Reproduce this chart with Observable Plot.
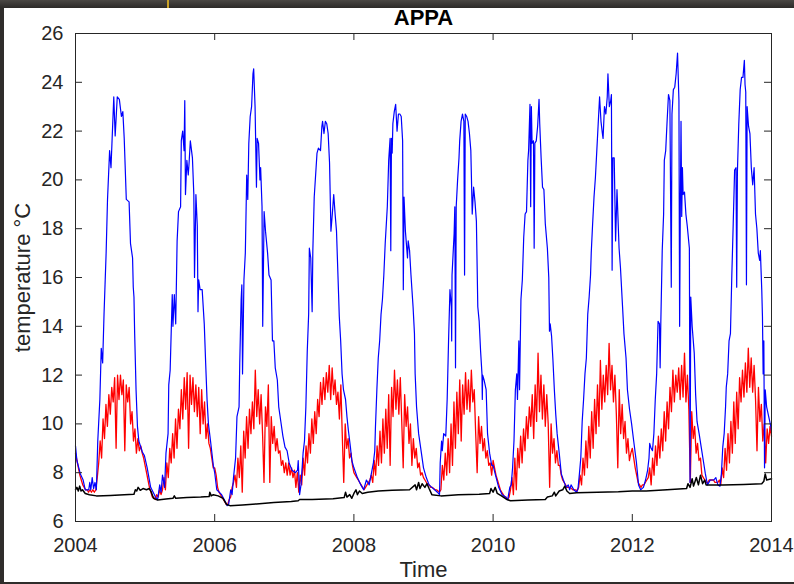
<!DOCTYPE html>
<html><head><meta charset="utf-8">
<script src="https://cdn.jsdelivr.net/npm/d3@7"></script>
<script src="https://cdn.jsdelivr.net/npm/@observablehq/plot@0.6"></script>
<style>
html,body{margin:0;padding:0;width:794px;height:584px;overflow:hidden;background:#2f2d2b;}
#top{position:absolute;left:0;top:0;width:794px;height:8px;background:linear-gradient(#4a4744,#2c2a28);}
#mark1{position:absolute;left:167px;top:0;width:2px;height:8px;background:#c9a227;}
#paper{position:absolute;left:4px;top:8px;width:790px;height:574px;background:#fff;}
#chart{position:absolute;left:0;top:0;width:794px;height:584px;}
#chart svg{overflow:visible;}
</style></head><body><div id="top"></div><div id="mark1"></div><div id="paper"></div><div id="chart"></div>
<script>
const title = "APPA";
const xLabel = "Time";
const yLabel = "temperature °C";
const years = [2004, 2005, 2006, 2007, 2008, 2009, 2010, 2011, 2012, 2013];
const xTicks = [2004, 2006, 2008, 2010, 2012, 2014];
const yTicks = [6, 8, 10, 12, 14, 16, 18, 20, 22, 24, 26];

// blue series: [decimal year, temperature]
const blue = [
[2004.00,9.1],[2004.02,8.5],[2004.07,7.95],[2004.11,7.7],[2004.14,7.3],[2004.19,7.3],[2004.205,7.6],[2004.22,7.3],[2004.24,7.8],[2004.26,7.35],[2004.28,7.6],[2004.30,7.3],[2004.32,9.3],[2004.35,11.0],[2004.37,13.1],[2004.39,12.5],[2004.41,14.5],[2004.44,17.0],[2004.46,19.2],[2004.49,21.2],[2004.51,20.5],[2004.55,23.4],[2004.57,21.8],[2004.60,23.4],[2004.63,23.3],[2004.66,22.6],[2004.68,22.8],[2004.70,21.7],[2004.73,19.2],[2004.77,19.1],[2004.79,17.4],[2004.82,16.8],[2004.83,15.6],[2004.84,15.2],[2004.85,13.7],[2004.87,11.4],[2004.89,9.9],[2004.91,9.3],[2004.96,8.85],[2004.99,8.7],
[2005.03,8.2],[2005.08,7.4],[2005.15,7.0],[2005.18,6.9],[2005.21,7.5],[2005.23,7.2],[2005.25,7.9],[2005.28,7.4],[2005.30,8.8],[2005.33,9.6],[2005.34,11.6],[2005.36,12.2],[2005.39,15.3],[2005.40,14.0],[2005.42,15.3],[2005.44,14.1],[2005.46,17.5],[2005.48,18.7],[2005.51,18.9],[2005.52,21.6],[2005.54,22.0],[2005.56,21.2],[2005.57,23.25],[2005.58,19.4],[2005.60,20.8],[2005.62,20.2],[2005.63,20.6],[2005.65,21.6],[2005.68,20.9],[2005.70,19.4],[2005.71,16.0],[2005.73,19.4],[2005.75,18.1],[2005.76,14.6],[2005.77,15.9],[2005.79,15.5],[2005.82,15.5],[2005.85,14.1],[2005.87,12.5],[2005.89,11.0],[2005.91,10.0],[2005.94,9.3],[2005.98,8.3],
[2006.00,8.0],[2006.03,7.3],[2006.10,7.1],[2006.18,6.65],[2006.20,6.7],[2006.23,7.3],[2006.25,7.1],[2006.27,7.8],[2006.30,8.6],[2006.32,10.3],[2006.35,10.7],[2006.36,12.5],[2006.38,15.1],[2006.39,15.7],[2006.40,12.05],[2006.42,15.9],[2006.44,17.0],[2006.46,20.2],[2006.475,19.2],[2006.49,21.5],[2006.51,22.6],[2006.53,23.0],[2006.55,24.35],[2006.56,24.55],[2006.58,23.0],[2006.60,19.7],[2006.61,21.7],[2006.63,21.5],[2006.65,20.0],[2006.66,20.5],[2006.68,18.9],[2006.69,14.0],[2006.71,18.7],[2006.73,17.9],[2006.76,17.0],[2006.78,16.1],[2006.81,15.9],[2006.83,13.4],[2006.85,13.4],[2006.87,12.3],[2006.90,11.8],[2006.92,10.7],[2006.95,10.1],[2006.98,9.5],
[2007.01,9.05],[2007.04,8.9],[2007.07,8.4],[2007.11,8.1],[2007.16,8.0],[2007.19,8.1],[2007.20,8.5],[2007.22,7.1],[2007.24,7.5],[2007.27,8.8],[2007.29,9.3],[2007.31,10.7],[2007.33,13.0],[2007.35,14.5],[2007.36,17.2],[2007.38,16.8],[2007.40,14.6],[2007.41,17.1],[2007.43,19.3],[2007.45,20.2],[2007.47,21.1],[2007.49,21.3],[2007.52,21.2],[2007.54,22.2],[2007.55,22.4],[2007.57,21.9],[2007.59,22.4],[2007.61,22.3],[2007.63,21.9],[2007.65,20.7],[2007.67,17.9],[2007.69,18.6],[2007.71,19.4],[2007.73,18.6],[2007.75,17.9],[2007.78,15.3],[2007.79,14.4],[2007.81,13.4],[2007.83,12.05],[2007.85,11.4],[2007.88,11.0],[2007.90,10.3],[2007.92,9.75],[2007.95,9.05],[2007.97,8.5],
[2008.00,8.2],[2008.05,7.8],[2008.10,7.5],[2008.14,7.3],[2008.18,7.7],[2008.22,7.5],[2008.25,7.95],[2008.28,8.4],[2008.30,8.9],[2008.31,9.9],[2008.33,11.4],[2008.35,12.7],[2008.37,13.4],[2008.39,14.5],[2008.41,15.1],[2008.43,16.1],[2008.45,17.4],[2008.48,18.9],[2008.50,20.8],[2008.52,21.7],[2008.53,17.1],[2008.54,21.7],[2008.55,21.1],[2008.56,22.3],[2008.58,22.8],[2008.60,23.1],[2008.62,22.0],[2008.64,22.7],[2008.66,22.7],[2008.68,22.6],[2008.70,21.6],[2008.71,15.5],[2008.72,19.3],[2008.74,17.9],[2008.77,16.8],[2008.78,17.5],[2008.80,17.1],[2008.82,16.1],[2008.85,14.8],[2008.87,13.7],[2008.88,12.05],[2008.90,10.7],[2008.93,9.6],[2008.97,8.8],
[2009.00,8.2],[2009.04,7.8],[2009.08,7.5],[2009.12,7.4],[2009.16,7.3],[2009.20,7.2],[2009.23,7.1],[2009.24,8.4],[2009.26,9.3],[2009.27,8.9],[2009.29,9.6],[2009.32,9.5],[2009.34,11.0],[2009.36,13.4],[2009.38,15.5],[2009.40,14.8],[2009.405,13.4],[2009.41,16.1],[2009.44,17.8],[2009.45,18.9],[2009.46,12.3],[2009.47,18.9],[2009.49,20.0],[2009.51,20.9],[2009.52,21.6],[2009.54,22.4],[2009.56,22.7],[2009.58,22.4],[2009.59,16.1],[2009.60,22.7],[2009.62,22.6],[2009.64,22.4],[2009.66,21.9],[2009.68,21.2],[2009.70,18.6],[2009.72,19.7],[2009.74,19.1],[2009.76,18.3],[2009.78,14.8],[2009.80,14.2],[2009.82,13.0],[2009.84,12.05],[2009.845,11.0],[2009.85,12.0],[2009.87,11.8],[2009.90,11.4],[2009.92,9.6],[2009.95,8.8],[2009.98,8.3],
[2010.00,8.3],[2010.03,7.95],[2010.08,7.4],[2010.13,7.1],[2010.18,7.0],[2010.21,6.9],[2010.24,7.4],[2010.26,7.5],[2010.28,8.2],[2010.30,9.3],[2010.32,11.4],[2010.34,12.05],[2010.35,11.0],[2010.37,13.4],[2010.38,11.4],[2010.40,15.1],[2010.42,15.9],[2010.44,17.65],[2010.46,18.6],[2010.48,18.7],[2010.50,20.8],[2010.51,21.2],[2010.53,23.1],[2010.54,18.9],[2010.55,23.0],[2010.56,21.5],[2010.58,21.6],[2010.59,17.2],[2010.60,21.5],[2010.62,21.6],[2010.64,22.2],[2010.66,23.3],[2010.67,22.3],[2010.69,20.9],[2010.71,19.7],[2010.73,19.6],[2010.75,18.2],[2010.78,17.2],[2010.80,16.0],[2010.81,13.8],[2010.82,14.1],[2010.84,13.6],[2010.86,12.6],[2010.88,11.4],[2010.90,10.4],[2010.92,9.6],[2010.95,8.8],[2010.98,7.95],
[2011.01,7.7],[2011.05,7.4],[2011.08,7.5],[2011.10,7.3],[2011.12,7.5],[2011.16,7.3],[2011.20,7.2],[2011.22,7.35],[2011.24,7.95],[2011.26,8.6],[2011.28,10.1],[2011.30,11.0],[2011.32,12.05],[2011.34,12.7],[2011.36,14.5],[2011.38,15.2],[2011.40,16.1],[2011.41,17.0],[2011.43,18.2],[2011.45,19.3],[2011.47,20.1],[2011.49,21.2],[2011.51,22.3],[2011.53,23.4],[2011.55,22.4],[2011.57,21.9],[2011.58,21.7],[2011.60,23.0],[2011.62,22.7],[2011.64,23.4],[2011.65,24.35],[2011.67,23.0],[2011.69,23.25],[2011.70,23.5],[2011.71,16.3],[2011.72,20.9],[2011.74,20.9],[2011.76,17.5],[2011.78,19.6],[2011.81,17.2],[2011.83,16.4],[2011.86,14.8],[2011.88,13.7],[2011.91,12.7],[2011.93,11.4],[2011.96,10.6],[2011.99,10.0],
[2012.02,9.3],[2012.06,8.4],[2012.09,7.5],[2012.12,7.3],[2012.16,7.4],[2012.19,7.7],[2012.22,8.1],[2012.24,8.6],[2012.25,9.2],[2012.27,9.0],[2012.29,8.9],[2012.31,9.6],[2012.33,11.0],[2012.35,12.05],[2012.37,14.2],[2012.39,14.1],[2012.40,12.3],[2012.41,14.2],[2012.43,17.1],[2012.45,18.6],[2012.46,20.8],[2012.48,21.2],[2012.50,22.4],[2012.52,23.5],[2012.54,23.25],[2012.56,15.6],[2012.57,22.7],[2012.59,23.7],[2012.61,23.8],[2012.63,24.35],[2012.65,25.2],[2012.67,23.25],[2012.68,14.0],[2012.69,18.9],[2012.70,22.4],[2012.71,18.5],[2012.72,20.5],[2012.73,19.4],[2012.75,19.5],[2012.77,18.6],[2012.79,18.1],[2012.82,17.2],[2012.83,7.6],[2012.84,15.2],[2012.86,14.0],[2012.89,12.9],[2012.91,11.2],[2012.93,10.1],[2012.96,9.6],[2012.99,9.05],
[2013.02,8.5],[2013.05,7.95],[2013.08,7.5],[2013.12,7.7],[2013.17,7.7],[2013.20,7.8],[2013.23,7.5],[2013.26,7.45],[2013.28,7.95],[2013.30,9.05],[2013.32,9.6],[2013.34,10.7],[2013.35,11.5],[2013.37,12.05],[2013.39,13.4],[2013.41,13.7],[2013.43,16.1],[2013.45,18.2],[2013.47,20.4],[2013.49,20.5],[2013.50,15.6],[2013.51,20.3],[2013.53,22.3],[2013.55,23.7],[2013.57,24.2],[2013.59,24.2],[2013.61,24.9],[2013.62,23.9],[2013.63,23.6],[2013.64,15.7],[2013.65,23.0],[2013.67,22.2],[2013.69,21.9],[2013.71,20.5],[2013.73,19.8],[2013.75,20.5],[2013.77,18.6],[2013.79,18.0],[2013.81,17.0],[2013.83,16.7],[2013.84,17.1],[2013.86,15.5],[2013.87,14.4],[2013.88,12.05],[2013.89,13.4],[2013.90,8.2],[2013.91,11.4],[2013.93,10.7],[2013.96,10.3],[2013.99,9.9],[2014.00,9.7]
];

// red series: 48 readings per year (one every 1/48 year)
const red2004 = [8.8,8.5,8.2,7.9,7.7,7.5,7.4,7.3,7.3,7.2,7.3,7.2,7.3,7.2,7.3,7.8,8.4,9.3,8.6,10.2,9.4,10.8,9.9,11.2,10.4,11.5,10.9,11.9,9.0,12.0,11.0,12.0,11.2,11.8,8.9,11.6,10.9,11.5,10.0,10.5,9.3,9.8,8.8,9.4,8.9,9.1,8.8,8.6];
const red2005 = [8.3,8.0,7.7,7.4,7.2,7.0,7.0,6.9,7.1,7.0,7.3,7.1,7.3,7.8,7.3,8.4,7.8,9.0,8.4,9.6,8.6,10.2,9.0,10.6,9.8,11.4,10.2,11.9,10.6,12.1,9.0,12.0,10.8,11.9,10.5,11.6,10.3,11.5,9.6,11.4,10.0,10.9,9.4,10.0,9.2,9.0,8.6,8.2];
const red2006 = [8.2,7.9,7.4,7.2,7.1,7.0,6.9,6.8,6.7,6.7,6.9,7.0,7.4,7.6,7.9,7.4,8.6,7.8,9.1,7.2,9.7,8.6,10.3,9.0,10.6,9.6,10.9,9.8,12.2,10.3,11.4,10.0,11.2,9.6,7.6,10.7,9.9,11.6,7.6,10.3,9.2,9.9,8.9,9.4,8.8,8.9,8.3,8.5];
const red2007 = [8.0,8.4,7.9,8.4,7.9,8.2,7.8,8.1,7.4,8.0,7.2,7.9,7.5,8.6,7.9,9.1,8.4,9.6,8.8,10.2,9.2,10.5,9.6,11.0,10.3,11.7,10.8,11.9,11.0,12.1,11.3,12.4,11.0,12.3,11.2,11.8,10.8,11.3,10.2,11.6,9.5,7.6,10.0,9.0,9.4,8.6,8.8,8.3];
const red2008 = [8.0,7.9,7.8,7.7,7.6,7.5,7.4,7.3,7.4,7.5,7.6,7.7,7.9,7.6,8.5,7.9,9.1,8.3,9.7,8.4,10.2,8.8,10.6,9.0,11.2,8.3,11.5,10.3,12.2,10.6,11.8,10.4,11.9,10.1,8.2,11.2,9.9,10.7,9.2,10.0,8.3,9.4,8.6,9.0,8.2,8.4,7.9,8.0];
const red2009 = [7.8,7.7,7.6,7.5,7.5,7.4,7.4,7.35,7.3,7.3,7.25,7.2,7.3,8.3,7.7,8.8,7.9,9.4,8.0,10.0,8.3,10.9,9.0,11.3,9.6,11.8,9.3,11.6,10.4,12.1,10.6,11.8,10.5,12.2,10.9,11.4,9.6,8.0,10.3,9.2,9.9,8.9,9.4,8.6,8.9,8.3,8.4,7.9];
const red2010 = [8.5,8.2,7.9,7.7,7.5,7.3,7.2,7.1,7.0,7.0,6.9,7.0,7.3,7.8,7.1,8.6,7.3,9.0,8.2,9.5,8.4,9.8,8.9,10.3,9.4,10.7,9.9,11.2,9.4,11.6,10.1,12.9,10.5,12.0,10.2,11.6,9.9,11.2,10.0,7.4,10.0,8.8,9.4,8.4,8.9,8.3,8.3,7.9];
const red2011 = [7.7,7.6,7.5,7.4,7.4,7.4,7.35,7.3,7.3,7.3,7.25,7.4,7.9,7.5,8.6,7.9,9.3,8.2,9.9,8.6,10.5,9.0,11.0,9.6,11.6,9.9,12.6,10.6,12.0,10.9,12.4,11.2,13.3,11.4,12.4,10.9,12.0,10.4,8.2,11.4,9.6,10.8,9.4,10.1,8.8,9.4,8.5,8.8];
const red2012 = [9.0,8.6,8.2,7.9,7.6,7.5,7.4,7.5,7.5,7.6,7.7,7.8,8.2,7.5,8.6,7.9,9.1,8.3,9.5,8.6,9.8,8.9,10.5,9.3,10.9,9.8,11.5,10.5,12.2,10.9,12.0,11.3,12.3,11.0,12.4,11.1,12.9,10.9,12.0,10.6,7.6,10.5,9.4,9.9,8.8,9.2,8.5,8.6];
const red2013 = [7.9,7.8,7.7,7.6,7.6,7.7,7.7,7.7,7.7,7.6,7.6,7.6,7.7,7.5,8.2,7.8,9.0,8.1,9.6,8.4,10.1,8.8,10.9,9.2,11.3,9.8,11.9,10.9,12.2,11.1,12.5,11.3,13.1,11.5,12.7,11.3,12.4,11.0,8.9,11.5,10.1,10.8,9.3,10.0,8.4,9.8,9.2,9.9];
const redEnd = 9.5;

// black series: [decimal year, temperature]
const black = [
[2004.00,7.30],[2004.02,7.40],[2004.04,7.25],[2004.06,7.45],[2004.08,7.25],[2004.10,7.30],[2004.14,7.15],[2004.20,7.10],[2004.30,7.05],[2004.50,7.07],[2004.70,7.10],[2004.84,7.12],[2004.86,7.30],[2004.88,7.25],[2004.90,7.40],[2004.93,7.28],[2004.97,7.35],
[2005.02,7.30],[2005.06,7.35],[2005.09,7.20],[2005.12,6.95],[2005.18,6.88],[2005.30,6.92],[2005.40,6.95],[2005.42,7.05],[2005.44,6.95],[2005.60,6.98],[2005.80,7.00],[2005.92,7.02],[2005.93,7.20],[2005.95,7.05],[2005.98,7.10],
[2006.05,7.05],[2006.12,6.95],[2006.17,6.70],[2006.22,6.65],[2006.40,6.68],[2006.60,6.72],[2006.85,6.78],[2007.10,6.82],[2007.20,6.85],[2007.22,6.90],[2007.40,6.90],[2007.70,6.93],[2007.86,6.98],[2007.88,7.20],[2007.90,7.00],[2007.94,7.10],[2007.97,6.95],
[2008.00,7.15],[2008.03,7.30],[2008.05,7.10],[2008.08,7.25],[2008.12,7.15],[2008.20,7.20],[2008.35,7.25],[2008.55,7.28],[2008.80,7.30],[2008.88,7.50],[2008.90,7.30],[2008.93,7.60],[2008.95,7.35],[2008.98,7.55],
[2009.02,7.40],[2009.05,7.55],[2009.08,7.35],[2009.12,7.10],[2009.25,7.05],[2009.50,7.10],[2009.80,7.12],[2009.95,7.15],[2009.97,7.35],
[2010.00,7.20],[2010.03,7.40],[2010.06,7.15],[2010.12,7.05],[2010.20,6.90],[2010.25,6.85],[2010.50,6.88],[2010.75,6.90],[2010.78,7.00],[2010.85,7.05],[2010.88,7.20],[2010.90,7.05],[2010.95,7.25],
[2011.00,7.30],[2011.03,7.45],[2011.06,7.25],[2011.10,7.15],[2011.20,7.18],[2011.50,7.20],[2011.80,7.22],
[2012.00,7.25],[2012.20,7.25],[2012.50,7.30],[2012.78,7.35],[2012.80,7.55],[2012.83,7.40],[2012.86,7.75],[2012.88,7.45],[2012.92,7.80],[2012.95,7.50],[2012.98,7.90],
[2013.01,7.55],[2013.04,7.70],[2013.06,7.50],[2013.30,7.50],[2013.60,7.52],[2013.86,7.55],[2013.89,7.65],[2013.91,7.95],[2013.93,7.70],[2014.00,7.75]
];

const redByYear = [red2004, red2005, red2006, red2007, red2008, red2009, red2010, red2011, red2012, red2013];
const redRows = [];
years.forEach((yr, k) => redByYear[k].forEach((v, i) => redRows.push({t: yr + i / 48, v})));
redRows.push({t: 2014, v: redEnd});
const blueRows = blue.map(([t, v]) => ({t, v}));
const blackRows = black.map(([t, v]) => ({t, v}));

const ink = "#262626";
const W = 794, H = 584, ML = 75, MR = 23, MT = 33, MB = 63, TICK = 7;
const innerW = W - ML - MR, innerH = H - MT - MB;
const chart = Plot.plot({
  width: W, height: H,
  marginLeft: ML, marginRight: MR, marginTop: MT, marginBottom: MB,
  style: {fontFamily: "'Liberation Sans', Arial, Helvetica, sans-serif", fontSize: "20px", color: ink, background: "transparent"},
  x: {domain: [2004, 2014]},
  y: {domain: [6, 26]},
  marks: [
    Plot.line(redRows, {x: "t", y: "v", stroke: "#ff0000", strokeWidth: 1.3}),
    Plot.line(blueRows, {x: "t", y: "v", stroke: "#0000ff", strokeWidth: 1.2}),
    Plot.line(blackRows, {x: "t", y: "v", stroke: "#000000", strokeWidth: 1.5}),
    // inward tick marks on all four sides (MATLAB box style)
    Plot.tickX(xTicks, {x: d => d, stroke: ink, insetTop: innerH - TICK}),
    Plot.tickX(xTicks, {x: d => d, stroke: ink, insetBottom: innerH - TICK}),
    Plot.tickY(yTicks, {y: d => d, stroke: ink, insetRight: innerW - TICK}),
    Plot.tickY(yTicks, {y: d => d, stroke: ink, insetLeft: innerW - TICK}),
    Plot.frame({stroke: ink, strokeWidth: 1}),
    Plot.axisX(xTicks, {anchor: "bottom", tickSize: 0, tickPadding: 16, tickFormat: d => String(d), fill: ink, label: null}),
    Plot.axisY(yTicks, {anchor: "left", tickSize: 0, tickPadding: 12, tickFormat: d => String(d), fill: ink, label: null}),
    Plot.text([title], {text: d => d, frameAnchor: "top", lineAnchor: "middle", dy: -16, fontSize: 22, fontWeight: "bold", fill: "#000"}),
    Plot.text([xLabel], {text: d => d, frameAnchor: "bottom", lineAnchor: "middle", dy: 48, fontSize: 22, fill: ink}),
    Plot.text([yLabel], {text: d => d, frameAnchor: "left", textAnchor: "middle", lineAnchor: "middle", dx: -53, rotate: -90, fontSize: 22, fill: ink})
  ]
});
document.getElementById("chart").appendChild(chart);
</script></body></html>
